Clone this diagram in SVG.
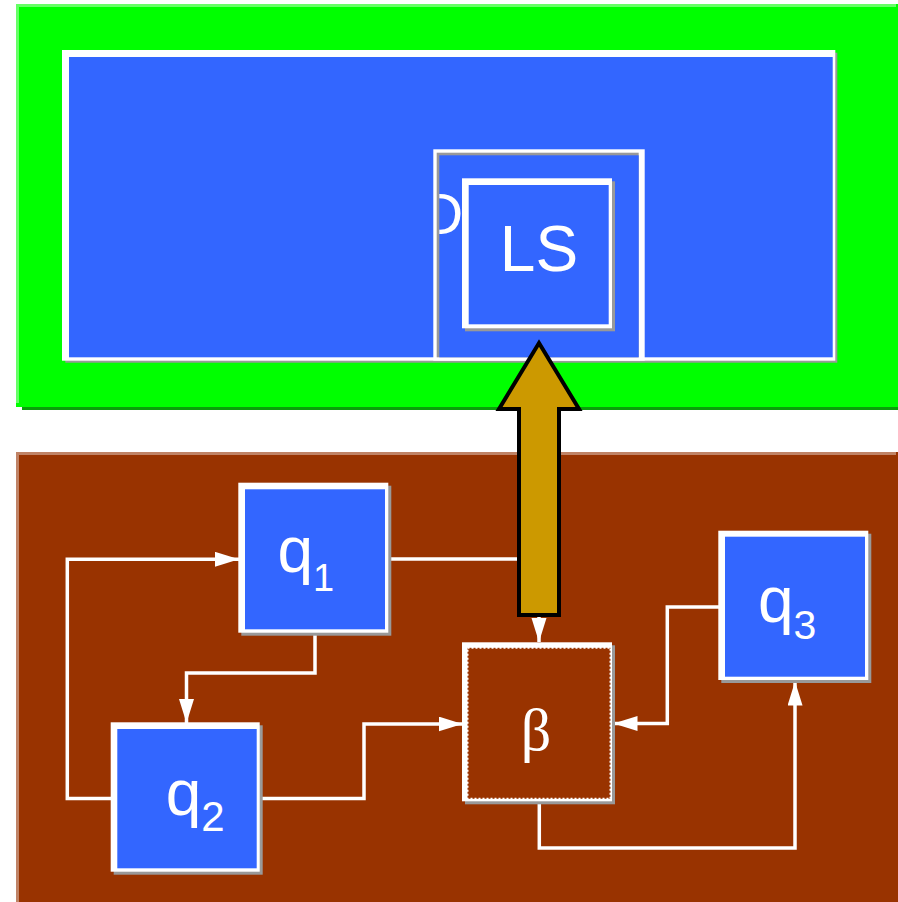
<svg xmlns="http://www.w3.org/2000/svg" width="898" height="902" viewBox="0 0 898 902">
<defs>
<style>
.shadow{fill:#999999}
.wbox{fill:#ffffff}
.blue{fill:#3366ff}
.lbl{fill:#ffffff;font-family:"Liberation Sans",Arial,sans-serif}
.conn{fill:none;stroke:#ffffff;stroke-width:3.5;stroke-linejoin:miter}
</style>
<marker id="ah" markerUnits="userSpaceOnUse" markerWidth="25" markerHeight="16" refX="24" refY="7.5" orient="auto">
<path d="M0,0 L24,7.5 L0,15 z" fill="#ffffff"/>
</marker>
<clipPath id="dclip"><rect x="439.3" y="155.3" width="199.4" height="202"/></clipPath>
</defs>
<rect width="898" height="902" fill="#ffffff"/>

<g id="top-panel">
<rect x="22" y="10" width="880" height="400" fill="#0a9f0a"/>
<rect x="16" y="4" width="890" height="403" fill="#00ff00"/>
<rect x="16" y="4" width="880" height="3" fill="#66ff66"/>
<rect x="16" y="4" width="3" height="399" fill="#66ff66"/>
</g>

<g id="outer-box">
<rect class="shadow" x="65.3" y="52.7" width="772" height="310"/>
<rect class="wbox" x="62" y="50" width="773.3" height="310.7"/>
<rect class="blue" x="69" y="57" width="763.7" height="300.3"/>
</g>

<g id="d-box">
<rect class="wbox" x="433.3" y="149.3" width="211.4" height="211.4"/>
<rect class="shadow" x="436.7" y="152.7" width="202" height="204.6"/>
<rect class="blue" x="439.3" y="155.3" width="199.4" height="202"/>
<text class="lbl" x="422" y="234" font-size="57" clip-path="url(#dclip)">D</text>
</g>

<g id="ls">
<rect class="shadow" x="465" y="181.3" width="150" height="150"/>
<rect class="wbox" x="462" y="178.3" width="150" height="150"/>
<rect class="blue" x="468.7" y="185" width="140" height="139.3"/>
<text class="lbl" x="539" y="271" font-size="64" text-anchor="middle">LS</text>
</g>

<g id="bottom-panel">
<rect x="16" y="452" width="890" height="460" fill="#993300"/>
<rect x="16" y="452" width="880" height="3" fill="#c08366"/>
<rect x="16" y="452" width="3" height="450" fill="#c08366"/>
</g>

<g id="connectors">
<path class="conn" d="M388,559 H539 V642" marker-end="url(#ah)"/>
<path class="conn" d="M315,633 V673 H186.5 V723" marker-end="url(#ah)"/>
<path class="conn" d="M111,798.5 H67.3 V559.3 H239" marker-end="url(#ah)"/>
<path class="conn" d="M260,798.5 H364 V724 H462.5" marker-end="url(#ah)"/>
<path class="conn" d="M720,607 H667.3 V723.5 H613.5" marker-end="url(#ah)"/>
<path class="conn" d="M539.3,801.7 V848 H795 V681.5" marker-end="url(#ah)"/>
</g>

<g id="q1">
<rect class="shadow" x="241.3" y="485.7" width="150" height="150"/>
<rect class="wbox" x="238.3" y="482.7" width="150" height="150"/>
<rect class="blue" x="245" y="489.3" width="140" height="140"/>
<text class="lbl" x="277.5" y="572" font-size="64">q<tspan font-size="38" dy="19">1</tspan></text>
</g>

<g id="q2">
<rect class="shadow" x="113.7" y="725.3" width="149" height="149.4"/>
<rect class="wbox" x="110.7" y="722.3" width="149" height="149.4"/>
<rect class="blue" x="117.3" y="729" width="139.4" height="139.3"/>
<text class="lbl" x="165.7" y="815" font-size="64">q<tspan font-size="42" dy="16">2</tspan></text>
</g>

<g id="q3">
<rect class="shadow" x="721.3" y="533.7" width="150" height="149.3"/>
<rect class="wbox" x="718.3" y="530.7" width="150" height="149.3"/>
<rect class="blue" x="725" y="536.7" width="140" height="140"/>
<text class="lbl" x="758" y="622" font-size="64">q<tspan font-size="41" dy="17">3</tspan></text>
</g>

<g id="beta">
<rect class="shadow" x="465" y="645.3" width="150" height="159"/>
<rect class="wbox" x="462" y="642.3" width="150" height="159"/>
<rect x="467.5" y="647.8" width="143" height="151" fill="#993300" stroke="#ffffff" stroke-width="2" stroke-dasharray="2 2"/>
<text x="536" y="750" font-size="60" text-anchor="middle" fill="#ffffff" font-family="'Liberation Serif','DejaVu Serif',serif">β</text>
</g>

<g id="big-arrow">
<path d="M539,343 L579,409 L559,409 L559,615 L519,615 L519,409 L499,409 Z" fill="#cc9900" stroke="#000000" stroke-width="4" stroke-linejoin="miter"/>
</g>
</svg>
